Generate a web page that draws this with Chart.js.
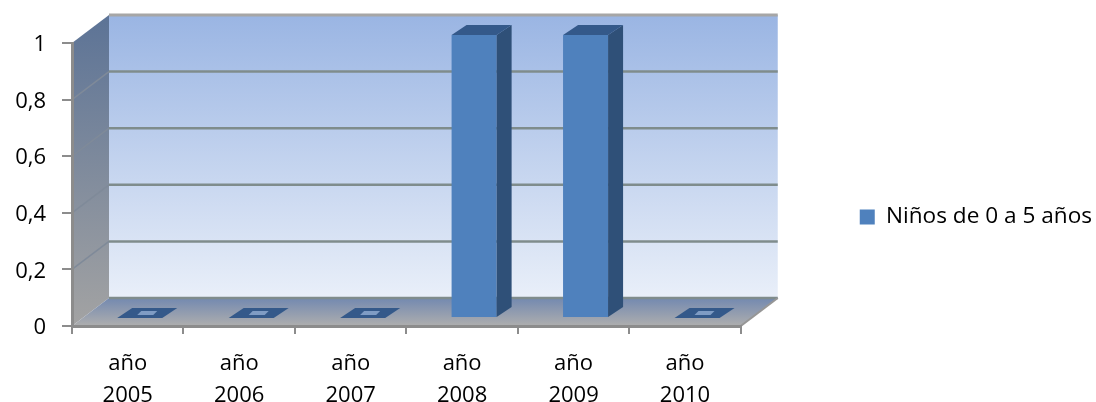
<!DOCTYPE html>
<html>
<head>
<meta charset="utf-8">
<style>
html, body { margin: 0; padding: 0; background: #fff; }
canvas { display: block; }
</style>
<script src="https://cdn.jsdelivr.net/npm/chart.js@4"></script>
</head>
<body>
<canvas id="myChart" width="1096" height="402"></canvas>
<script>
const categories = [['año', '2005'], ['año', '2006'], ['año', '2007'], ['año', '2008'], ['año', '2009'], ['año', '2010']];
const seriesName = 'Niños de 0 a 5 años';
const seriesValues = [0, 0, 0, 1, 1, 0];
const yTickLabels = ['0', '0,2', '0,4', '0,6', '0,8', '1'];

// depth of the fake 3D box, and of the bars inside it
const WALL_DX = 37, WALL_DY = -28;
const BAR_SHIFT_X = 12, BAR_SHIFT_Y = -8;
const BAR_DX = 15, BAR_DY = -10;

function poly(ctx, pts, fill) {
    ctx.beginPath();
    pts.forEach((p, i) => i ? ctx.lineTo(p[0], p[1]) : ctx.moveTo(p[0], p[1]));
    ctx.closePath();
    ctx.fillStyle = fill;
    ctx.fill();
}

// walls, floor and gridlines
const box3d = {
    id: 'box3d',
    beforeDraw(chart) {
        const { ctx, chartArea: a, scales } = chart;
        const backL = a.left + WALL_DX, backR = a.right + WALL_DX;
        const backT = a.top + WALL_DY, backB = a.bottom + WALL_DY;
        ctx.save();

        let g = ctx.createLinearGradient(0, backT, 0, backB);
        g.addColorStop(0, '#9ab5e3');
        g.addColorStop(1, '#e9eff9');
        poly(ctx, [[backL, backT], [backR, backT], [backR, backB], [backL, backB]], g);

        g = ctx.createLinearGradient(0, backT, 0, a.bottom);
        g.addColorStop(0, '#5c7396');
        g.addColorStop(1, '#a3a3a3');
        poly(ctx, [[a.left, a.top], [backL, backT], [backL, backB], [a.left, a.bottom]], g);

        g = ctx.createLinearGradient(0, backB, 0, a.bottom);
        g.addColorStop(0, '#7389b0');
        g.addColorStop(1, '#aeaeae');
        poly(ctx, [[a.left, a.bottom], [backL, backB], [backR, backB], [a.right, a.bottom]], g);

        scales.y.ticks.forEach(t => {
            const y = scales.y.getPixelForValue(t.value);
            ctx.strokeStyle = t.value === 1 ? '#a6a6a6' : '#7f8c8c';
            ctx.lineWidth = t.value === 1 ? 3 : 2.5;
            ctx.beginPath();
            ctx.moveTo(backL, y + WALL_DY);
            ctx.lineTo(backR, y + WALL_DY);
            ctx.stroke();
            if (t.value > 0 && t.value < 1) {
                ctx.strokeStyle = '#7f8a99';
                ctx.lineWidth = 1.5;
                ctx.beginPath();
                ctx.moveTo(a.left, y);
                ctx.lineTo(backL, y + WALL_DY);
                ctx.stroke();
            }
        });

        ctx.strokeStyle = '#969696';
        ctx.lineWidth = 2;
        ctx.beginPath();
        ctx.moveTo(a.right, a.bottom);
        ctx.lineTo(backR, backB);
        ctx.stroke();
        ctx.restore();
    },
    beforeDatasetDraw(chart) {
        chart.ctx.save();
        chart.ctx.translate(BAR_SHIFT_X, BAR_SHIFT_Y);
    },
    afterDatasetDraw(chart, args) {
        const ctx = chart.ctx;
        chart.getDatasetMeta(args.index).data.forEach(bar => {
            const l = bar.x - bar.width / 2, r = bar.x + bar.width / 2;
            const t = bar.y, b = bar.base;
            if (b - t > 1) {
                poly(ctx, [[r, t], [r + BAR_DX, t + BAR_DY], [r + BAR_DX, b + BAR_DY], [r, b]], '#2f5078');
            }
            poly(ctx, [[l, t], [r, t], [r + BAR_DX, t + BAR_DY], [l + BAR_DX, t + BAR_DY]], '#34598a');
            if (b - t <= 1) {
                // empty bars show a paler patch in the middle of the cap
                const w = 9, cx = bar.x + BAR_DX / 2, cy = t + BAR_DY / 2;
                poly(ctx, [[cx - w - 1, cy + 2], [cx + w - 3, cy + 2], [cx + w + 1, cy - 2], [cx - w + 3, cy - 2]], '#7f9cc4');
            }
        });
        ctx.restore();
    }
};

const myChart = new Chart(document.getElementById('myChart'), {
    type: 'bar',
    data: {
        labels: categories,
        datasets: [{
            label: seriesName,
            data: seriesValues,
            backgroundColor: '#4f81bd',
            borderWidth: 0,
            barPercentage: 0.404,
            categoryPercentage: 1,
            clip: false
        }]
    },
    options: {
        responsive: false,
        animation: false,
        layout: { padding: { top: 32, bottom: 0, left: 0, right: -6 } },
        plugins: {
            tooltip: { enabled: false },
            legend: {
                position: 'right',
                maxWidth: 300,
                onClick: null,
                labels: {
                    boxWidth: 15,
                    boxHeight: 15,
                    padding: 2,
                    color: '#000',
                    font: { family: 'Open Sans', size: 22.6 }
                }
            }
        },
        scales: {
            x: {
                grid: { drawOnChartArea: false, color: '#8c8c8c', lineWidth: 2, tickLength: 8 },
                border: { color: '#8c8c8c', width: 3 },
                ticks: {
                    color: '#000',
                    maxRotation: 0,
                    padding: 14,
                    font: { family: 'Open Sans', size: 22, lineHeight: 1.45 }
                },
                afterFit(scale) { scale.height = 76; }
            },
            y: {
                min: 0,
                max: 1,
                grid: { drawOnChartArea: false, color: '#8c8c8c', lineWidth: 2, tickLength: 10 },
                border: { color: '#8c8c8c', width: 3 },
                ticks: {
                    stepSize: 0.2,
                    color: '#000',
                    padding: 16,
                    labelOffset: 2,
                    font: { family: 'Open Sans', size: 22 },
                    callback: (v, i) => yTickLabels[i]
                },
                afterFit(scale) { scale.width = 72; }
            },
            // empty axes, they only keep the plot at its place
            gap: {
                position: 'right',
                grid: { display: false },
                border: { display: false },
                ticks: { display: false },
                afterFit(scale) { scale.width = 117; }
            },
            gapTop: {
                position: 'top',
                grid: { display: false },
                border: { display: false },
                ticks: { display: false },
                afterFit(scale) { scale.height = 11; }
            }
        }
    },
    plugins: [box3d]
});
</script>
</body>
</html>
